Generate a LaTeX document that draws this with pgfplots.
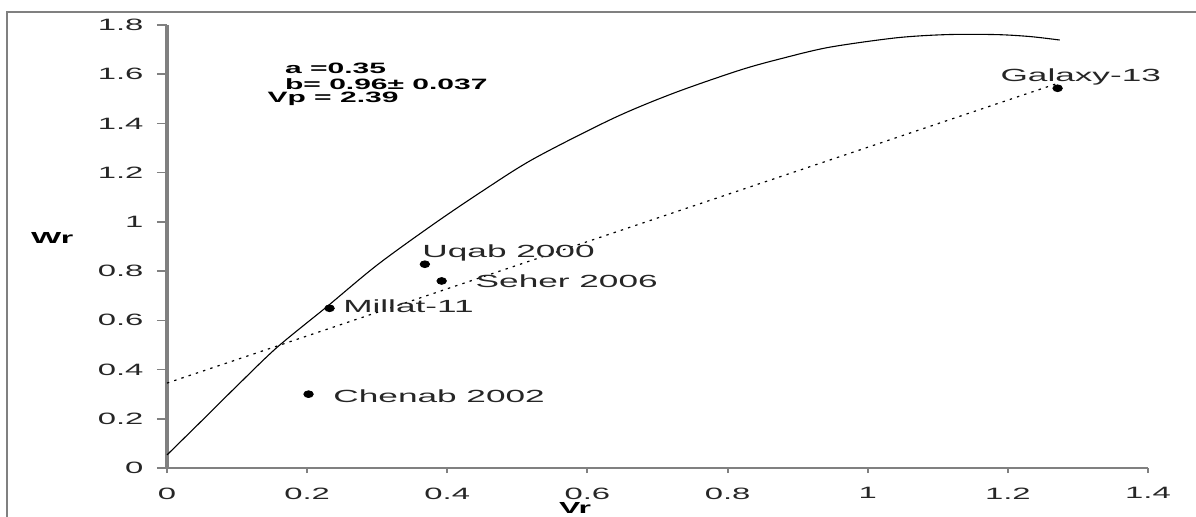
\documentclass[border=0pt]{standalone}
\usepackage{fontspec}
\setmainfont[FakeStretch=2.0]{Liberation Sans}
\usepackage{pgfplots}
\pgfplotsset{compat=1.18}
\definecolor{axgray}{RGB}{128,128,128}
\begin{document}
\begin{tikzpicture}
\useasboundingbox (-83.5pt,-24pt) rectangle (514.5pt,234pt);
\draw[axgray, line width=0.8pt] (-80pt,-30pt) -- (-80pt,228pt) -- (520pt,228pt);
\begin{axis}[
  at={(0,0)}, anchor=south west,
  scale only axis, width=490.5pt, height=221.5pt,
  xmin=0, xmax=1.4, ymin=0, ymax=1.8,
  axis x line*=bottom, axis y line*=left,
  x axis line style={axgray, line width=1pt},
  y axis line style={axgray, line width=1.6pt},
  xtick={0,0.2,...,1.4}, ytick={0,0.2,...,1.8},
  xticklabels={0,0.2,0.4,0.6,0.8,1,1.2,1.4},
  yticklabels={0,0.2,0.4,0.6,0.8,1,1.2,1.4,1.6,1.8},
  tick align=outside,
  xtick style={axgray, line width=1pt, /pgfplots/major tick length=2.5pt},
  ytick style={axgray, line width=0.8pt, /pgfplots/major tick length=5pt},
  /pgf/number format/assume math mode=true,
  tick label style={font=\fontsize{8.2}{9}\selectfont, text=black!85},
  yticklabel style={xshift=-4pt},
  xticklabel style={yshift=-2pt},
  xlabel={\textbf{Vr}}, ylabel={\textbf{Wr}},
  label style={font=\fontsize{8}{9}\selectfont},
  xlabel style={at={(axis description cs:0.416,-0.09)}, anchor=center},
  ylabel style={at={(axis description cs:-0.117,0.519)}, anchor=center, rotate=-90},
  clip=false,
]
% fitted curve
\addplot[black, line width=0.55pt, smooth] coordinates {
 (0,0.053) (0.05,0.193) (0.1,0.334) (0.157,0.49) (0.228,0.655) (0.3,0.825)
 (0.38,0.99) (0.45,1.125) (0.523,1.256) (0.637,1.421) (0.723,1.523)
 (0.818,1.617) (0.88,1.666) (0.946,1.710) (1.041,1.748) (1.113,1.761)
 (1.184,1.761) (1.232,1.753) (1.274,1.739)
};
% regression line
\addplot[black, line width=0.6pt, dash pattern=on 1.2pt off 2.6pt] coordinates {
 (0,0.345) (1.268,1.56)
};
% genotypes
\addplot[only marks, mark=*, mark size=1.7pt, mark options={xscale=1.4, black}] coordinates {
 (0.202,0.300) (0.232,0.649) (0.368,0.828) (0.392,0.760) (1.271,1.543)
};
\begin{scope}[every node/.style={font=\fontsize{8.8}{10}\selectfont, anchor=west, inner sep=0pt, text=black!85}]
\node at (axis cs:0.237,0.293) {Chenab 2002};
\node at (axis cs:0.251,0.658) {Millat-11};
\node at (axis cs:0.364,0.874) {Uqab 2000};
\node at (axis cs:0.440,0.757) {Seher 2006};
\node at (axis cs:1.189,1.590) {Galaxy-13};
\end{scope}
\begin{scope}[every node/.style={font=\bfseries\fontsize{7.5}{8}\selectfont, anchor=west, inner sep=0pt}]
\node at (axis cs:0.168,1.625) {a =0.35};
\node at (axis cs:0.168,1.560) {b= 0.96± 0.037};
\node at (axis cs:0.143,1.499) {Vp = 2.39};
\end{scope}
\end{axis}
\end{tikzpicture}
\end{document}
